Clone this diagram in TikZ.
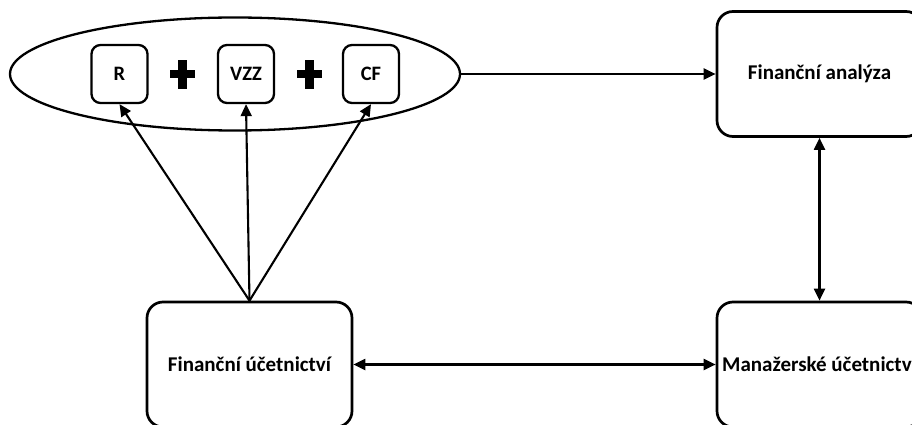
\documentclass[tikz,border=0pt]{standalone}
\usepackage{fontspec}
\setmainfont{Carlito}
\usepackage{tikz}
\usetikzlibrary{shapes.geometric, arrows.meta}
\usetikzlibrary{positioning}

\tikzset{
  bigbox/.style={draw, line width=2.7pt, rounded corners=16pt, minimum width=205pt, minimum height=125pt, inner sep=0.75pt, font=\fontsize{21}{25}\selectfont\bfseries},
  smallbox/.style={draw, line width=2.3pt, rounded corners=9pt, minimum width=56pt, minimum height=58pt, inner sep=0.75pt, font=\fontsize{20.5}{24}\selectfont\bfseries},
  link/.style={line width=2.1pt, -{Triangle[length=12pt,width=11pt]}},
  twoway/.style={line width=2.1pt, {Triangle[length=12pt,width=11pt]}-{Triangle[length=12pt,width=11pt]}}
}

\begin{document}
\begin{tikzpicture}[x=1pt,y=1pt,yscale=-1,xscale=1]
  \useasboundingbox (0,0) rectangle (912,425);
  \clip (0,0) rectangle (912,425);

  % the three statements inside the oval
  \node (ovl) [draw, ellipse, line width=2.3pt, minimum width=450pt, minimum height=113pt] at (235,74) {};
  \node (r) [smallbox] at (119.5,74) {R};
  \node (vzz) [smallbox] at (246,74) {VZZ};
  \node (cf) [smallbox] at (371,74) {CF};

  % plus signs
  \foreach \px in {182.5,309} {
    \fill (\px-4.5,60) rectangle (\px+4.5,89);
    \fill (\px-12.5,70) rectangle (\px+12.5,78.5);
  }

  % Label the boxes
  \node (fa) [bigbox] at (819.5,74) {Finanční analýza};
  \node (fu) [bigbox] at (249.5,364.5) {Finanční účetnictví};
  \node (mu) [bigbox] at (819.5,364.5) {Manažerské účetnictví};

  \draw[link] (ovl.east) -- (fa.west);
  \draw[link] (fu.north) -- (r.south);
  \draw[link] (fu.north) -- (vzz.south);
  \draw[link] (fu.north) -- (cf.south);
  \draw[twoway] (fa.south) -- (mu.north);
  \draw[twoway] (fu.east) -- (mu.west);
\end{tikzpicture}
\end{document}
